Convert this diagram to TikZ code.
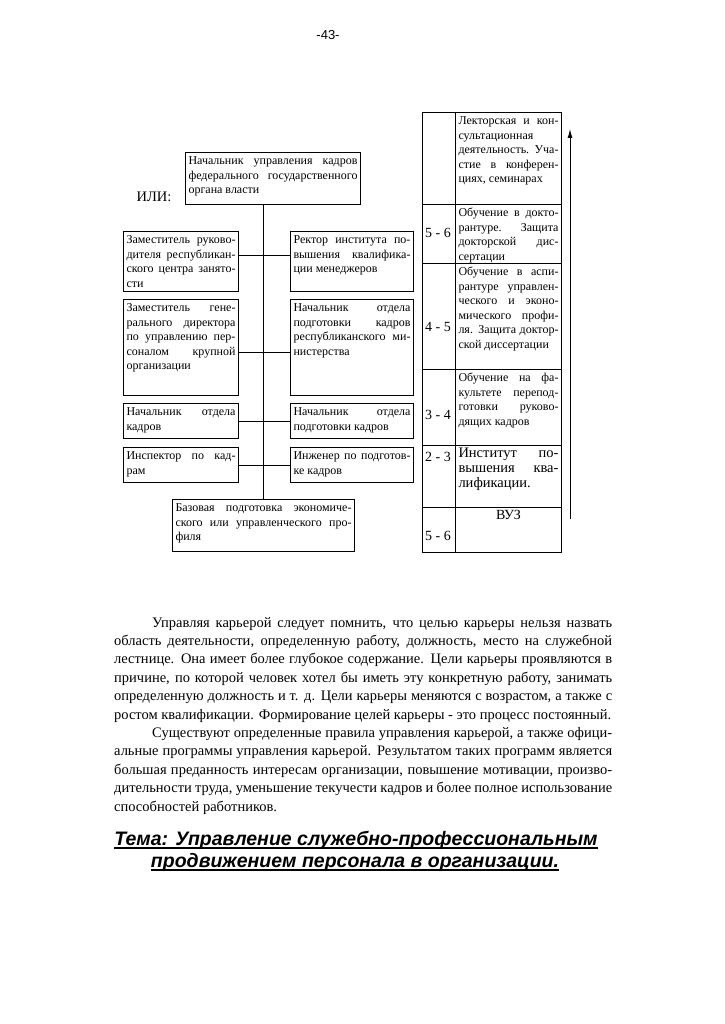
\documentclass[tikz,border=0pt]{standalone}
\usepackage{fontspec}
\setmainfont{Liberation Serif}
\newfontfamily\sansfont{Liberation Sans}
\usetikzlibrary{arrows.meta,positioning}
\newcommand\cadrefont{\fontsize{12}{14.5}\selectfont}
\newcommand\chiffrefont{\fontsize{14}{16}\selectfont}
\newcommand\corpsfont{\fontsize{14.5}{18.4}\selectfont}
\newcommand\cellule[3]{\parbox[c][#2pt][t]{#1pt}{\strut#3}}
\newcommand\jl[1]{\makebox[\linewidth][s]{#1}\\}
\newcommand\jli[1]{\hspace*{38pt}\makebox[\dimexpr\linewidth-38pt\relax][s]{#1}\\}
\tikzset{poste/.style={draw,line width=1pt,anchor=north west,inner xsep=3pt,inner ysep=2pt,font=\cadrefont},rang/.style={draw,line width=1pt,anchor=north west,inner sep=0pt,minimum width=33pt},chiffre/.style={font=\chiffrefont,inner sep=0pt},lien/.style={line width=1pt},souligne/.style={line width=1.6pt}}

\begin{document}
\begin{tikzpicture}[x=1pt,y=-1pt]
\path[fill=white,use as bounding box] (0,0) rectangle (724,1024);
\node[font=\sansfont\fontsize{13}{15}\selectfont] (page) at (328,35) {-43-};
% schema de carriere
\node[font=\fontsize{14.5}{16}\selectfont] (ili) at (154,197) {ИЛИ:};
\node[poste] (chef) at (185,152) {\cellule{169}{48}{\jl{Начальник управления кадров}\jl{федерального государственного}органа власти}};
\node[poste] (zam) at (123,231) {\cellule{109}{56}{\jl{Заместитель руково-}\jl{дителя республикан-}\jl{ского центра занято-}сти}};
\node[poste] (rektor) at (290,231) {\cellule{117}{56}{\jl{Ректор института по-}\jl{вышения квалифика-}ции менеджеров}};
\node[poste] (zamgen) at (123,299) {\cellule{109}{92}{\jl{Заместитель гене-}\jl{рального директора}\jl{по управлению пер-}\jl{соналом крупной}организации}};
\node[poste] (minist) at (290,299) {\cellule{117}{92}{\jl{Начальник отдела}\jl{подготовки кадров}\jl{республиканского ми-}нистерства}};
\node[poste] (otdel) at (123,403) {\cellule{109}{31}{\jl{Начальник отдела}кадров}};
\node[poste] (podgot) at (290,403) {\cellule{117}{31}{\jl{Начальник отдела}подготовки кадров}};
\node[poste] (inspekt) at (123,447) {\cellule{109}{31}{\jl{Инспектор по кад-}рам}};
\node[poste] (inzhen) at (290,447) {\cellule{117}{31}{\jl{Инженер по подготов-}ке кадров}};
\node[poste] (base) at (172,499) {\cellule{176}{48}{\jl{Базовая подготовка экономиче-}\jl{ского или управленческого про-}филя}};
\draw[lien] (chef.south -| base.north)--(base.north);
\draw[lien] ([yshift=6pt]zam.east)--([yshift=6pt]rektor.west);
\draw[lien] ([yshift=-5pt]zamgen.east)--([yshift=-5pt]minist.west);
\draw[lien] (otdel)--(podgot);
\draw[lien] (inspekt)--(inzhen);
% tableau des etapes
\node[rang,minimum height=92pt] (g1) at (422,112) {};
\node[rang,minimum height=59pt] (g2) at (422,204) {};
\node[rang,minimum height=106pt] (g3) at (422,263) {};
\node[rang,minimum height=76pt] (g4) at (422,369) {};
\node[rang,minimum height=62pt] (g5) at (422,445) {};
\node[rang,minimum height=45pt] (g6) at (422,507) {};
\node[poste] (e1) at (455,112) {\cellule{100}{88}{\jl{Лекторская и кон-}сультационная\\\jl{деятельность. Уча-}\jl{стие в конферен-}циях, семинарах}};
\node[poste] (e2) at (455,204) {\cellule{100}{55}{\jl{Обучение в докто-}\jl{рантуре. Защита}\jl{докторской дис-}сертации}};
\node[poste] (e3) at (455,263) {\cellule{100}{102}{\jl{Обучение в аспи-}\jl{рантуре управлен-}\jl{ческого и эконо-}\jl{мического профи-}\jl{ля. Защита доктор-}ской диссертации}};
\node[poste] (e4) at (455,369) {\cellule{100}{72}{\jl{Обучение на фа-}\jl{культете перепод-}\jl{готовки руково-}дящих кадров}};
\node[poste] (e5) at (455,445) {\cellule{100}{58}{\fontsize{14.5}{15}\selectfont\jl{Институт по-}\jl{вышения ква-}лификации.}};
\node[poste] (e6) at (455,507) {\cellule{100}{41}{\centering\chiffrefont ВУЗ}};
\node[chiffre] (n2) at (438,233) {5 - 6};
\node[chiffre] (n3) at (438,327) {4 - 5};
\node[chiffre] (n4) at (438,415) {3 - 4};
\node[chiffre] (n5) at (438,457) {2 - 3};
\node[chiffre] (n6) at (438,536) {5 - 6};
\coordinate (bas) at (570,519);
\coordinate (haut) at (570,129);
\draw[lien,-{Latex[length=9pt,width=5pt]}] (bas)--(haut);
% texte
\node[anchor=base west,inner sep=0pt] (texte) at (114,627) {\parbox[t]{498pt}{\corpsfont
\jli{Управляя карьерой следует помнить, что целью карьеры нельзя назвать}
\jl{область деятельности, определенную работу, должность, место на служебной}
\jl{лестнице. Она имеет более глубокое содержание. Цели карьеры проявляются в}
\jl{причине, по которой человек хотел бы иметь эту конкретную работу, занимать}
\jl{определенную должность и т. д. Цели карьеры меняются с возрастом, а также с}
ростом квалификации. Формирование целей карьеры - это процесс постоянный.\\
\jli{Существуют определенные правила управления карьерой, а также офици-}
\jl{альные программы управления карьерой. Результатом таких программ является}
\jl{большая преданность интересам организации, повышение мотивации, произво-}
\jl{дительности труда, уменьшение текучести кадров и более полное использование}
способностей работников.}};
\node[font=\sansfont\fontsize{19.5}{24}\selectfont\bfseries\itshape,anchor=base,inner sep=0pt] (theme) at (356,845) {Тема: Управление служебно-профессиональным};
\node[font=\sansfont\fontsize{19.5}{24}\selectfont\bfseries\itshape,anchor=base,inner sep=0pt] (theme2) at (355,867) {продвижением персонала в организации.};
\draw[souligne] ([yshift=-3pt]theme.base west)--([yshift=-3pt]theme.base east);
\draw[souligne] ([yshift=-3pt]theme2.base west)--([yshift=-3pt]theme2.base east);
\end{tikzpicture}
\end{document}
